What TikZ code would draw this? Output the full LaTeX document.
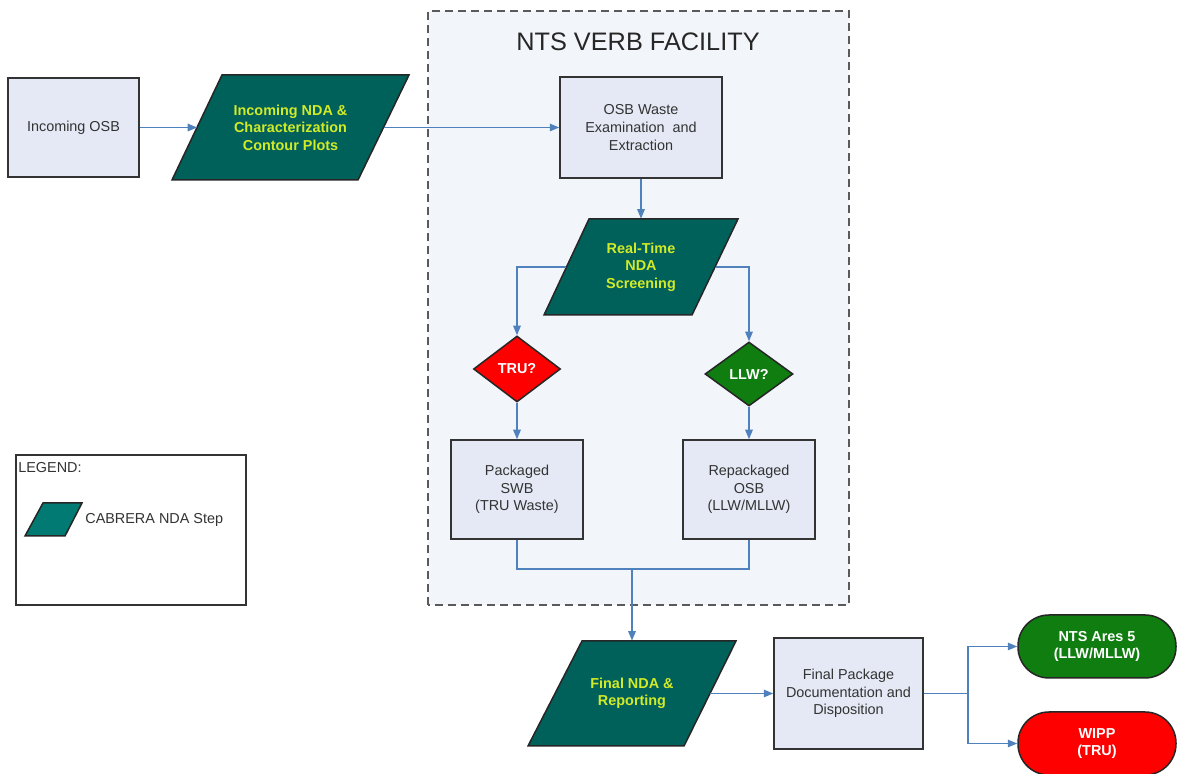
\documentclass[tikz,border=0pt]{standalone}
\usepackage{fontspec}
\setmainfont{Liberation Sans}
\usetikzlibrary{arrows.meta,shapes.geometric}

\begin{document}
\begin{tikzpicture}[
    box/.style={draw=r51g51b51, line width=0.03cm, fill=r228g233b245, text=r51g51b51,
        align=center, inner sep=0pt, font=\fontsize{8.2}{10}\selectfont},
    ndastep/.style={draw=r38g38b38, line width=0.03cm, fill=r0g96b90},
    ndalabel/.style={text=r210g235b40, align=center, inner sep=0pt,
        font=\fontsize{8.2}{10}\selectfont\bfseries},
    query/.style={diamond, draw=r38g38b38, line width=0.03cm, text=white, inner sep=0pt,
        font=\fontsize{8.2}{10}\selectfont\bfseries},
    goal/.style={rectangle, rounded corners=0.62cm, draw=r38g38b38, line width=0.03cm,
        text=white, align=center, inner sep=0pt, minimum width=3.16cm, minimum height=1.26cm,
        font=\fontsize{8.2}{10}\selectfont\bfseries},
    link/.style={draw=r79g129b189, line width=0.028cm},
    flow/.style={link, -{Triangle[length=0.19cm,width=0.15cm]}}]

    % Colours
    \definecolor{r51g51b51}{RGB}{51,51,51}%
    \definecolor{r38g38b38}{RGB}{38,38,38}%
    \definecolor{r228g233b245}{RGB}{228,233,245}%
    \definecolor{r242g245b250}{RGB}{242,245,250}%
    \definecolor{r0g96b90}{RGB}{0,96,90}%
    \definecolor{r0g122b115}{RGB}{0,122,115}%
    \definecolor{r210g235b40}{RGB}{210,235,40}%
    \definecolor{r255g0b0}{RGB}{255,0,0}%
    \definecolor{r15g125b15}{RGB}{15,125,15}%
    \definecolor{r79g129b189}{RGB}{79,129,189}%
    \definecolor{r90g90b90}{RGB}{90,90,90}%

    \fill[white] (0.000000,0.000000) rectangle (23.540000,15.480000);
    \useasboundingbox (0.000000,0.000000) rectangle (23.540000,15.480000);

    % Drawing facility frame
    \filldraw[fill=r242g245b250, draw=r90g90b90, line width=0.035cm,
        dash pattern=on 0.16cm off 0.10cm] (8.560000,3.380000) rectangle (16.980000,15.260000);%
    \node[font=\fontsize{14.4}{17}\selectfont, text=r38g38b38] (title) at (12.760000,14.640000) {NTS VERB FACILITY};%

    % Drawing legend
    \draw[draw=r51g51b51, line width=0.03cm] (0.320000,3.380000) rectangle (4.920000,6.380000);%
    \node[anchor=west, inner sep=0pt, text=r51g51b51, font=\fontsize{8.2}{10}\selectfont] (legend) at (0.360000,6.120000) {LEGEND:};%
    \filldraw[draw=r38g38b38, line width=0.03cm, fill=r0g122b115] (0.500000,4.760000) -- (1.300000,4.760000) -- (1.640000,5.420000) -- (0.860000,5.420000) -- cycle;%
    \node[anchor=west, inner sep=0pt, text=r51g51b51, font=\fontsize{8.2}{10}\selectfont] (legendstep) at (1.700000,5.080000) {CABRERA NDA Step};%

    % Drawing step shapes
    \filldraw[ndastep] (3.440000,11.880000) -- (7.160000,11.880000) -- (8.180000,13.980000) -- (4.440000,13.980000) -- cycle;%
    \filldraw[ndastep] (10.880000,9.180000) -- (13.840000,9.180000) -- (14.760000,11.100000) -- (11.780000,11.100000) -- cycle;%
    \filldraw[ndastep] (10.560000,0.560000) -- (13.680000,0.560000) -- (14.720000,2.660000) -- (11.640000,2.660000) -- cycle;%

    % Marking nodes
    \node[box, minimum width=2.62cm, minimum height=1.98cm] (osbin) at (1.470000,12.930000) {Incoming OSB};%
    \node[ndalabel, minimum width=3.72cm, minimum height=2.10cm] (ndain) at (5.810000,12.930000) {Incoming NDA \&\\Characterization\\Contour Plots};%
    \node[box, minimum width=3.24cm, minimum height=2.02cm] (exam) at (12.820000,12.930000) {OSB Waste\\Examination~ and\\Extraction};%
    \node[ndalabel, minimum width=2.97cm, minimum height=1.92cm] (screen) at (12.820000,10.140000) {Real-Time\\NDA\\Screening};%
    \node[query, fill=r255g0b0, minimum width=1.74cm, minimum height=1.32cm] (tru) at (10.340000,8.100000) {TRU?};%
    \node[query, fill=r15g125b15, minimum width=1.76cm, minimum height=1.28cm] (llw) at (14.980000,8.000000) {LLW?};%
    \node[box, minimum width=2.64cm, minimum height=1.98cm] (swb) at (10.340000,5.690000) {Packaged\\SWB\\(TRU Waste)};%
    \node[box, minimum width=2.64cm, minimum height=1.98cm] (osbrep) at (14.980000,5.690000) {Repackaged\\OSB\\(LLW/MLLW)};%
    \node[ndalabel, minimum width=3.10cm, minimum height=2.10cm] (ndafin) at (12.640000,1.610000) {Final NDA \&\\Reporting};%
    \node[box, minimum width=2.98cm, minimum height=2.22cm] (dispo) at (16.970000,1.610000) {Final Package\\Documentation and\\Disposition};%
    \node[goal, fill=r15g125b15] (ares) at (21.940000,2.550000) {NTS Ares 5\\(LLW/MLLW)};%
    \node[goal, fill=r255g0b0] (wipp) at (21.940000,0.610000) {WIPP\\(TRU)};%

    \coordinate (merge) at (12.640000,4.100000);%
    \coordinate (split) at (19.360000,1.610000);%

    % Drawing connectors
    \draw[flow] (osbin.east) -- (ndain.west);%
    \draw[flow] (ndain.east) -- (exam.west);%
    \draw[flow] (exam.south) -- (screen.north);%
    \draw[flow] (screen.west) -| (tru.north);%
    \draw[flow] (screen.east) -| (llw.north);%
    \draw[flow] (tru.south) -- (swb.north);%
    \draw[flow] (llw.south) -- (osbrep.north);%
    \draw[link] (swb.south) |- (merge) -| (osbrep.south);%
    \draw[flow] (merge) -- (ndafin.north);%
    \draw[flow] (ndafin.east) -- (dispo.west);%
    \draw[link] (dispo.east) -- (split);%
    \draw[flow] (split) |- (ares.west);%
    \draw[flow] (split) |- (wipp.west);%
\end{tikzpicture}
\end{document}
